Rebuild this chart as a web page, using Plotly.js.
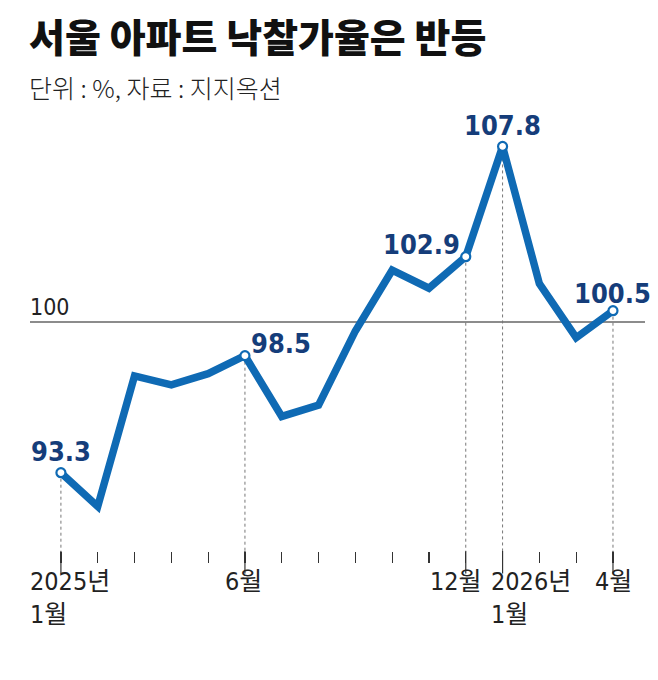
<!DOCTYPE html>
<html>
<head>
<meta charset="utf-8">
<script src="https://cdn.plot.ly/plotly-3.0.1.min.js"></script>
<style>
  body { margin: 0; background: #fff; }
  #chart { width: 658px; height: 680px; }
</style>
</head>
<body>
<div id="chart"></div>
<script>
// 서울 아파트 낙찰가율 (%), 2025년 1월 ~ 2026년 4월
const months = ["2025-01", "2025-02", "2025-03", "2025-04", "2025-05", "2025-06",
                "2025-07", "2025-08", "2025-09", "2025-10", "2025-11", "2025-12",
                "2026-01", "2026-02", "2026-03", "2026-04"];
const rates = [93.3, 91.8, 97.6, 97.2, 97.7, 98.5, 95.8, 96.3, 99.6, 102.3, 101.5, 102.9,
               107.8, 101.7, 99.3, 100.5];
const labeledIdx = [0, 5, 11, 12, 15];
const tickText = ["2025년<br>1월", "6월", "12월", "2026년<br>1월", "4월"];
const refLine = 100;

const BLUE = "#0f6ab4";
const NAVY = "#153d7a";
const NARROW = "Liberation Sans Narrow, DejaVu Sans Condensed, Noto Sans CJK KR, sans-serif";
const KR = "Noto Sans CJK KR, sans-serif";

const xs = months.map((m, i) => i);
const yMin = 89.82, yMax = 109.42;

const traces = [
    {
        x: xs, y: rates, type: "scatter", mode: "lines",
        line: { color: BLUE, width: 7.5 },
        hoverinfo: "skip"
    },
    {
        x: labeledIdx, y: labeledIdx.map(i => rates[i]), type: "scatter", mode: "markers",
        marker: { size: 9, color: "#fff", line: { color: BLUE, width: 2.2 } },
        hoverinfo: "skip"
    }
];

// where each value label sits relative to its point
const valuePos = {
    0:  { xanchor: "center", xshift: 0,  yshift: 4 },
    5:  { xanchor: "left",   xshift: 4,  yshift: -5 },
    11: { xanchor: "right",  xshift: -4, yshift: -5 },
    12: { xanchor: "center", xshift: 0,  yshift: 3 },
    15: { xanchor: "center", xshift: 0,  yshift: 0 }
};
const labelShift = { 0: -33, 5: -22, 11: -38, 12: -14, 15: -20 };

const shapes = [{
    type: "line", xref: "paper", x0: 0, x1: 1, yref: "y", y0: refLine, y1: refLine,
    line: { color: "#666", width: 1.5 }, layer: "below"
}];
labeledIdx.forEach(i => {
    shapes.push({
        type: "line", xref: "x", x0: i, x1: i, yref: "y", y0: rates[i], y1: yMin,
        line: { color: "#777", width: 1, dash: "dot" }, layer: "below"
    });
    shapes.push({
        type: "line", xref: "x", x0: i, x1: i, yref: "paper", y0: 0, y1: -0.051,
        line: { color: "#333", width: 1.2 }
    });
});

const annotations = [
    {
        text: "서울 아파트 낙찰가율은 반등", xref: "paper", yref: "paper",
        x: 0, y: 1.171, xanchor: "left", yanchor: "middle", showarrow: false, xshift: -3,
        font: { family: KR, size: 39, color: "#111", weight: 800 }
    },
    {
        text: "단위 : %, 자료 : 지지옥션", xref: "paper", yref: "paper",
        x: 0, y: 1.052, xanchor: "left", yanchor: "middle", showarrow: false, xshift: -3,
        font: { family: KR, size: 25, color: "#222", weight: 300 }
    },
    {
        text: String(refLine), xref: "paper", yref: "y", x: 0, y: refLine,
        xanchor: "left", yanchor: "bottom", showarrow: false, yshift: 0, xshift: -2,
        font: { family: NARROW, size: 23, color: "#222" }
    }
];
labeledIdx.forEach((i, k) => {
    const p = valuePos[i];
    annotations.push({
        text: rates[i].toFixed(1), xref: "x", yref: "y", x: i, y: rates[i],
        xanchor: p.xanchor, yanchor: "bottom", xshift: p.xshift, yshift: p.yshift,
        showarrow: false,
        font: { family: NARROW, size: 27, color: NAVY, weight: 700 }
    });
    annotations.push({
        text: tickText[k], xref: "x", yref: "paper", x: i, y: 0,
        xanchor: "left", yanchor: "top", align: "left", xshift: labelShift[i], yshift: -14,
        showarrow: false,
        font: { family: NARROW, size: 25, color: "#222" }
    });
});

const layout = {
    width: 658,
    height: 680,
    paper_bgcolor: "#fff",
    plot_bgcolor: "#fff",
    showlegend: false,
    margin: { l: 30, r: 13, t: 110, b: 129, pad: 0 },
    xaxis: {
        range: [-0.84, 15.87],
        tickvals: xs,
        showticklabels: false,
        ticks: "outside",
        ticklen: 11,
        tickwidth: 1.2,
        tickcolor: "#333",
        showgrid: false,
        zeroline: false,
        showline: false,
        fixedrange: true
    },
    yaxis: {
        range: [yMin, yMax],
        visible: false,
        fixedrange: true
    },
    shapes: shapes,
    annotations: annotations
};

Plotly.newPlot("chart", traces, layout, { displayModeBar: false, staticPlot: true });
</script>
</body>
</html>
